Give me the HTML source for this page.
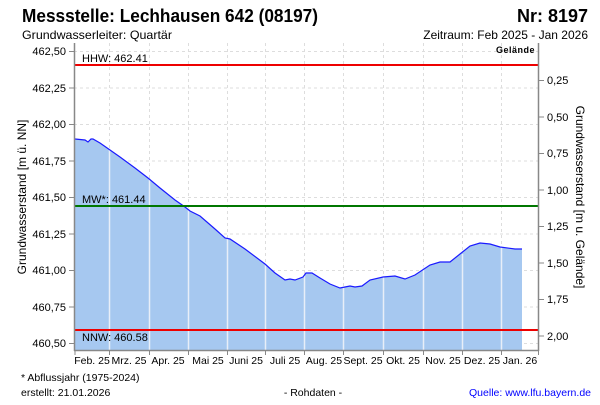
<!DOCTYPE html>
<html><head><meta charset="utf-8"><style>
body{margin:0;background:#fff;width:600px;height:400px;overflow:hidden;font-family:"Liberation Sans",sans-serif}
</style></head><body>
<svg width="600" height="400" xmlns="http://www.w3.org/2000/svg" font-family="Liberation Sans, sans-serif">
<text x="22" y="22" font-size="18" font-weight="bold" fill="#000" textLength="296" lengthAdjust="spacingAndGlyphs">Messstelle: Lechhausen 642 (08197)</text>
<text x="588" y="22" font-size="18" font-weight="bold" text-anchor="end" fill="#000">Nr: 8197</text>
<text x="22" y="39" font-size="12" textLength="150" lengthAdjust="spacingAndGlyphs">Grundwasserleiter: Quartär</text>
<text x="588" y="39" font-size="12" text-anchor="end">Zeitraum: Feb 2025 - Jan 2026</text>
<g stroke="#ddd" stroke-dasharray="3,3" stroke-width="1">
<line x1="74" x2="538" y1="51.5" y2="51.5"/><line x1="74" x2="538" y1="88" y2="88"/><line x1="74" x2="538" y1="124.5" y2="124.5"/><line x1="74" x2="538" y1="161" y2="161"/><line x1="74" x2="538" y1="197.5" y2="197.5"/><line x1="74" x2="538" y1="234" y2="234"/><line x1="74" x2="538" y1="270.5" y2="270.5"/><line x1="74" x2="538" y1="307" y2="307"/><line x1="74" x2="538" y1="343.5" y2="343.5"/>
<line y1="43" y2="350" x1="109.5" x2="109.5"/><line y1="43" y2="350" x1="149.5" x2="149.5"/><line y1="43" y2="350" x1="188.5" x2="188.5"/><line y1="43" y2="350" x1="227.5" x2="227.5"/><line y1="43" y2="350" x1="265.5" x2="265.5"/><line y1="43" y2="350" x1="304.5" x2="304.5"/><line y1="43" y2="350" x1="343.5" x2="343.5"/><line y1="43" y2="350" x1="383.5" x2="383.5"/><line y1="43" y2="350" x1="423.5" x2="423.5"/><line y1="43" y2="350" x1="462.5" x2="462.5"/><line y1="43" y2="350" x1="501.5" x2="501.5"/>
</g>
<polygon fill="#a6c8f0" points="75,350 75,139 85,140 88,142 91,139 93,139 100,143 110,150 120,157 135,168 148,178 160,188 175,200 185,207 190,211 200,216 215,229 225,238 230,239 245,249 265,264 275,273 285,280 290,279 295,280 303,277 306,273 312,273 320,278 330,284 340,288 345,287 350,286 355,287 362,286 370,280 383,277 395,276 405,279 415,275 430,265 440,262 450,262 460,254 470,246 480,243 490,244 500,247 515,249 522,249 522,350"/>
<g stroke="#e8eef8" stroke-width="1.5">
<line y1="150" y2="350" x1="109.5" x2="109.5"/><line y1="178" y2="350" x1="149.5" x2="149.5"/><line y1="209" y2="350" x1="188.5" x2="188.5"/><line y1="238" y2="350" x1="227.5" x2="227.5"/><line y1="264" y2="350" x1="265.5" x2="265.5"/><line y1="276" y2="350" x1="304.5" x2="304.5"/><line y1="288" y2="350" x1="343.5" x2="343.5"/><line y1="277" y2="350" x1="383.5" x2="383.5"/><line y1="266" y2="350" x1="423.5" x2="423.5"/><line y1="254" y2="350" x1="462.5" x2="462.5"/><line y1="247" y2="350" x1="501.5" x2="501.5"/>
</g>
<polyline fill="none" stroke="#1a1aff" stroke-width="1.2" points="75,139 85,140 88,142 91,139 93,139 100,143 110,150 120,157 135,168 148,178 160,188 175,200 185,207 190,211 200,216 215,229 225,238 230,239 245,249 265,264 275,273 285,280 290,279 295,280 303,277 306,273 312,273 320,278 330,284 340,288 345,287 350,286 355,287 362,286 370,280 383,277 395,276 405,279 415,275 430,265 440,262 450,262 460,254 470,246 480,243 490,244 500,247 515,249 522,249"/>
<line x1="74" x2="538" y1="65" y2="65" stroke="#e00" stroke-width="2"/>
<line x1="74" x2="538" y1="206" y2="206" stroke="#070" stroke-width="2"/>
<line x1="74" x2="538" y1="330" y2="330" stroke="#e00" stroke-width="2"/>
<g font-size="11"><text x="82" y="62">HHW: 462.41</text><text x="82" y="203">MW*: 461.44</text><text x="82" y="341">NNW: 460.58</text></g>
<text x="535" y="53" font-size="9" font-weight="bold" text-anchor="end" letter-spacing="0.5">Gelände</text>
<g stroke="#888" stroke-width="1.5" fill="none">
<line x1="74.5" x2="74.5" y1="43" y2="351"/><line x1="538.5" x2="538.5" y1="43" y2="351"/><line x1="74" x2="539" y1="350.5" y2="350.5"/>
</g>
<g stroke="#888"><line x1="69" x2="74" y1="51.5" y2="51.5"/><line x1="69" x2="74" y1="88" y2="88"/><line x1="69" x2="74" y1="124.5" y2="124.5"/><line x1="69" x2="74" y1="161" y2="161"/><line x1="69" x2="74" y1="197.5" y2="197.5"/><line x1="69" x2="74" y1="234" y2="234"/><line x1="69" x2="74" y1="270.5" y2="270.5"/><line x1="69" x2="74" y1="307" y2="307"/><line x1="69" x2="74" y1="343.5" y2="343.5"/>
<line x1="539" x2="544" y1="80.5" y2="80.5"/><line x1="539" x2="544" y1="117" y2="117"/><line x1="539" x2="544" y1="153.5" y2="153.5"/><line x1="539" x2="544" y1="190" y2="190"/><line x1="539" x2="544" y1="226.5" y2="226.5"/><line x1="539" x2="544" y1="263" y2="263"/><line x1="539" x2="544" y1="299.5" y2="299.5"/><line x1="539" x2="544" y1="336" y2="336"/>
<line y1="351" y2="355" x1="75" x2="75"/><line y1="351" y2="355" x1="109.5" x2="109.5"/><line y1="351" y2="355" x1="149.5" x2="149.5"/><line y1="351" y2="355" x1="188.5" x2="188.5"/><line y1="351" y2="355" x1="227.5" x2="227.5"/><line y1="351" y2="355" x1="265.5" x2="265.5"/><line y1="351" y2="355" x1="304.5" x2="304.5"/><line y1="351" y2="355" x1="343.5" x2="343.5"/><line y1="351" y2="355" x1="383.5" x2="383.5"/><line y1="351" y2="355" x1="423.5" x2="423.5"/><line y1="351" y2="355" x1="462.5" x2="462.5"/><line y1="351" y2="355" x1="501.5" x2="501.5"/><line y1="351" y2="355" x1="538.5" x2="538.5"/>
</g>
<g font-size="11" text-anchor="end"><text x="66" y="55">462,50</text><text x="66" y="92">462,25</text><text x="66" y="128">462,00</text><text x="66" y="165">461,75</text><text x="66" y="201">461,50</text><text x="66" y="238">461,25</text><text x="66" y="274">461,00</text><text x="66" y="311">460,75</text><text x="66" y="347">460,50</text></g>
<g font-size="11"><text x="547" y="84">0,25</text><text x="547" y="121">0,50</text><text x="547" y="157">0,75</text><text x="547" y="194">1,00</text><text x="547" y="230">1,25</text><text x="547" y="267">1,50</text><text x="547" y="303">1,75</text><text x="547" y="340">2,00</text></g>
<text transform="translate(26,197) rotate(-90)" font-size="12" text-anchor="middle">Grundwasserstand [m ü. NN]</text>
<text transform="translate(576,197) rotate(90)" font-size="12" text-anchor="middle">Grundwasserstand [m u. Gelände]</text>
<g font-size="10.5" text-anchor="middle"><text x="92" y="364">Feb. 25</text><text x="129" y="364">Mrz. 25</text><text x="168" y="364">Apr. 25</text><text x="208" y="364">Mai 25</text><text x="246" y="364">Juni 25</text><text x="285" y="364">Juli 25</text><text x="324" y="364">Aug. 25</text><text x="363" y="364">Sept. 25</text><text x="403" y="364">Okt. 25</text><text x="443" y="364">Nov. 25</text><text x="482" y="364">Dez. 25</text><text x="520" y="364">Jan. 26</text></g>
<text x="21" y="381" font-size="10.5">* Abflussjahr (1975-2024)</text>
<text x="21" y="396" font-size="10.5">erstellt:  21.01.2026</text>
<text x="313" y="396" font-size="10.5" text-anchor="middle">- Rohdaten -</text>
<text x="591" y="396" font-size="10.5" text-anchor="end" fill="#00f">Quelle: www.lfu.bayern.de</text>
</svg>
</body></html>
